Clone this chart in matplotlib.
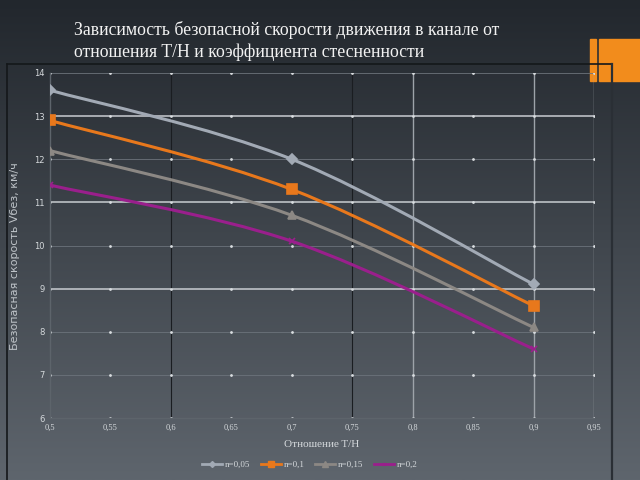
import matplotlib
matplotlib.use("Agg")
import matplotlib.pyplot as plt
import numpy as np
from matplotlib.patches import Rectangle, PathPatch
from matplotlib.path import Path
from matplotlib.lines import Line2D

# ratio T/H
ratio = [0.5, 0.7, 0.9]
# safe speed, km/h, for each n
v_n005 = [13.6, 12.0, 9.1]
v_n01 = [12.9, 11.3, 8.6]
v_n015 = [12.2, 10.7, 8.1]
v_n02 = [11.4, 10.1, 7.6]
series_labels = ["n=0,05", "n=0,1", "n=0,15", "n=0,2"]

x_ticks = [0.5, 0.55, 0.6, 0.65, 0.7, 0.75, 0.8, 0.85, 0.9, 0.95]
x_tick_labels = ["0,5", "0,55", "0,6", "0,65", "0,7", "0,75", "0,8", "0,85", "0,9", "0,95"]
y_ticks = [6, 7, 8, 9, 10, 11, 12, 13, 14]

title = "Зависимость безопасной скорости движения в канале от\nотношения T/H и коэффициента стесненности"


def smooth_path(xs, ys):
	"""Catmull-Rom style bezier through the points (like Excel smoothed lines)."""
	pts = np.column_stack([xs, ys]).astype(float)
	verts = [pts[0]]
	codes = [Path.MOVETO]
	n = len(pts)
	for i in range(n - 1):
		p0 = pts[i - 1] if i > 0 else pts[i]
		p1 = pts[i]
		p2 = pts[i + 1]
		p3 = pts[i + 2] if i + 2 < n else pts[i + 1]
		c1 = p1 + (p2 - p0) / 6.0
		c2 = p2 - (p3 - p1) / 6.0
		verts += [c1, c2, p2]
		codes += [Path.CURVE4] * 3
	return Path(verts, codes)


def plot_chart():
	fig = plt.figure(figsize=(6.4, 4.8), dpi=100)

	# slide background gradient
	bg = fig.add_axes([0, 0, 1, 1], zorder=0)
	top = np.array([0x22, 0x27, 0x2d]) / 255.0
	bot = np.array([0x5e, 0x65, 0x6d]) / 255.0
	t = np.linspace(0, 1, 256)[:, None]
	grad = top[None, :] * (1 - t) + bot[None, :] * t
	bg.imshow(grad[:, None, :], aspect="auto", extent=[0, 1, 0, 1])
	bg.set_axis_off()

	# orange decoration top right
	fig.patches.append(Rectangle((590 / 640, 1 - 81 / 480), 6 / 640, 42 / 480,
		transform=fig.transFigure, color="#f28c1c", zorder=1))
	fig.patches.append(Rectangle((599 / 640, 1 - 81 / 480), 41 / 640, 42 / 480,
		transform=fig.transFigure, color="#f28c1c", zorder=1))

	# chart frame
	fig.add_artist(Line2D([7 / 640, 612 / 640], [1 - 64 / 480, 1 - 64 / 480],
		transform=fig.transFigure, color="#14171a", lw=1.2, zorder=2))
	fig.add_artist(Line2D([7 / 640, 7 / 640], [0, 1 - 64 / 480],
		transform=fig.transFigure, color="#14171a", lw=1.2, zorder=2))
	fig.add_artist(Line2D([612 / 640, 612 / 640], [0, 1 - 64 / 480],
		transform=fig.transFigure, color="#2a2f35", lw=1.6, zorder=2))

	fig.text(74 / 640, 1 - 21 / 480, title, ha="left", va="top", color="#f2f2f2",
		fontsize=12.8, family="Liberation Serif", linespacing=1.3)

	ax = fig.add_axes([50 / 640, 1 - 418 / 480, 544 / 640, 345 / 480], zorder=3)
	ax.set_facecolor("none")
	ax.set_xlim(0.5, 0.95)
	ax.set_ylim(6, 14)

	# grid
	for y in y_ticks[1:]:
		if y in (9, 11, 13):
			ax.axhline(y, color="#c9cdd1", lw=1.1, zorder=1)
		else:
			ax.axhline(y, color="#6c737b", lw=0.6, zorder=1)
	for x in x_ticks:
		if x in (0.6, 0.75):
			ax.axvline(x, color="#1a1d21", lw=0.8, zorder=1)
		elif x in (0.8, 0.9, 0.95):
			ax.axvline(x, color="#9da3a9", lw=1.0, zorder=1)
	for x in x_ticks:
		ax.plot([x] * len(y_ticks), y_ticks, ls="none", marker=".", ms=2,
			color="#d8dcdf", zorder=2)

	for s in ["top", "right"]:
		ax.spines[s].set_visible(False)
	for s in ["left", "bottom"]:
		ax.spines[s].set_color("#5d646b")
		ax.spines[s].set_linewidth(1.0)

	series = [v_n005, v_n01, v_n015, v_n02]
	colors = ["#a2aab5", "#e8781c", "#8c8884", "#9a1f8c"]
	markers = ["D", "s", "^", "x"]
	msizes = [5, 7, 6, 4]
	handles = []
	for vals, c, m, ms, lab in zip(series, colors, markers, msizes, series_labels):
		ax.add_patch(PathPatch(smooth_path(ratio, vals), fill=False, edgecolor=c,
			lw=2.2, zorder=4))
		ax.plot(ratio, vals, ls="none", marker=m, ms=ms, color=c, mec=c, mew=1.2, zorder=5)
		handles.append(Line2D([], [], color=c, lw=2.0, marker=m, ms=ms - 2, mew=1.0, label=lab))

	ax.set_xticks(x_ticks)
	ax.set_xticklabels(x_tick_labels)
	ax.set_yticks(y_ticks)
	ax.tick_params(colors="#d5d9dc", labelsize=6, length=0, pad=4)
	for lbl in ax.get_xticklabels():
		lbl.set_family("Liberation Serif")

	ax.set_xlabel("Отношение T/H", color="#d5d9dc", fontsize=8,
		family="Liberation Serif", labelpad=6)
	ax.set_ylabel("Безопасная скорость Vбез, км/ч", color="#bfc4c9", fontsize=8,
		labelpad=8)
	ax.yaxis.set_label_coords(-0.055, 0.47)

	leg = fig.legend(handles=handles, loc="center", bbox_to_anchor=(310 / 640, 1 - 465 / 480),
		ncol=4, frameon=False, fontsize=6.5, handlelength=2.2, columnspacing=1.2,
		handletextpad=0.3)
	for txt in leg.get_texts():
		txt.set_color("#d5d9dc")
		txt.set_family("Liberation Serif")

	fig.savefig("out.png", dpi=100)


if __name__ == "__main__":
	plot_chart()
